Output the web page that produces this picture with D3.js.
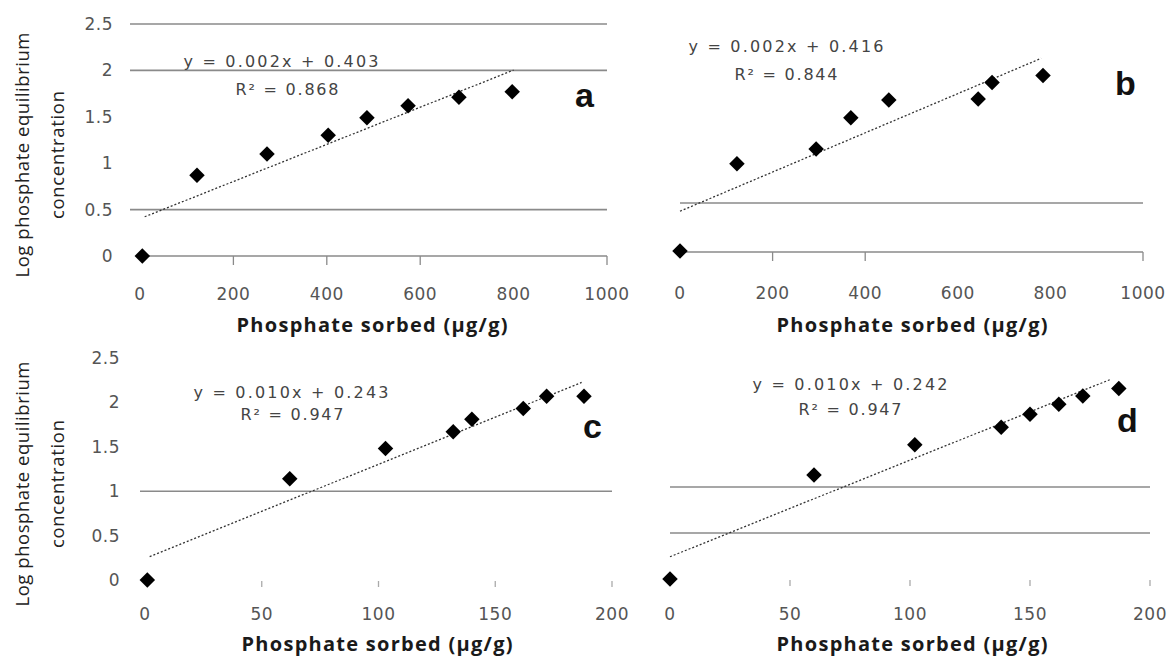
<!DOCTYPE html>
<html>
<head>
<meta charset="utf-8">
<script src="https://cdn.jsdelivr.net/npm/d3@7/dist/d3.min.js"></script>
<style>
  body { margin: 0; background: #fff; }
  svg { display: block; }
</style>
</head>
<body>
<div id="chart"></div>
<script>
// Values
const panelIds = ['a', 'b', 'c', 'd'];

const sorbedA = [5, 122, 272, 403, 486, 574, 683, 797];
const logConcA = [0, 0.87, 1.10, 1.30, 1.49, 1.62, 1.71, 1.77];
const sorbedB = [0, 123, 294, 369, 451, 644, 674, 784];
const logConcB = [0.01, 0.90, 1.05, 1.37, 1.55, 1.56, 1.73, 1.80];
const sorbedC = [1, 62, 103, 132, 140, 162, 172, 188];
const logConcC = [0, 1.14, 1.48, 1.67, 1.81, 1.93, 2.07, 2.07];
const sorbedD = [0, 60, 102, 138, 150, 162, 172, 187];
const logConcD = [0, 1.13, 1.46, 1.65, 1.79, 1.90, 1.99, 2.07];

// linear fits as drawn (slope, intercept, x span)
const trendSlope = [0.002, 0.002, 0.0106, 0.0105];
const trendIntercept = [0.403, 0.416, 0.243, 0.242];
const trendSpan = [[10, 800], [0, 780], [2, 187], [0, 184]];
const equationLabels = ['y = 0.002x + 0.403', 'y = 0.002x + 0.416', 'y = 0.010x + 0.243', 'y = 0.010x + 0.242'];
const r2Labels = ['R² = 0.868', 'R² = 0.844', 'R² = 0.947', 'R² = 0.947'];

const xTicksWide = [0, 200, 400, 600, 800, 1000];
const xTicksNarrow = [0, 50, 100, 150, 200];
const yTicks = [0, 0.5, 1, 1.5, 2, 2.5];
const yTickLabels = ['0', '0.5', '1', '1.5', '2', '2.5'];

// only some tick marks / gridlines survived in the scan
const tickMarks = [[200, 400, 600, 1000], [200, 400, 1000], [50, 100, 150, 200], [50, 100, 150, 200]];
const gridValues = [[0.5, 2, 2.5], [0.5], [1], [0.5, 1]];

const xTitle = 'Phosphate sorbed (µg/g)';
const yTitleLines = ['Log phosphate equilibrium', 'concentration'];

// Layout of each panel on the page
const layout = [
    { x: [140, 607], y: [256, 24], gridLeft: 130, axisLine: true, yLabels: 113, xLabelY: 300,
      titleX: 372, titleY: 332, eqX: 281, eqY: 67, r2X: 287, r2Y: 95, letter: [575, 107], yTitleMid: 155 },
    { x: [680, 1143], y: [252, 7], gridLeft: 680, axisLine: true, yLabels: null, xLabelY: 299,
      titleX: 912, titleY: 332, eqX: 786, eqY: 52, r2X: 786, r2Y: 80, letter: [1115, 95], yTitleMid: null },
    { x: [145, 612], y: [580, 358], gridLeft: 140, axisLine: false, yLabels: 120, xLabelY: 620,
      titleX: 377, titleY: 651, eqX: 291, eqY: 398, r2X: 292, r2Y: 420, letter: [583, 438], yTitleMid: 484 },
    { x: [670, 1150], y: [579, 349], gridLeft: 670, axisLine: false, yLabels: null, xLabelY: 620,
      titleX: 912, titleY: 651, eqX: 850, eqY: 390, r2X: 850, r2Y: 415, letter: [1117, 432], yTitleMid: null }
];

const sorbed = [sorbedA, sorbedB, sorbedC, sorbedD];
const logConc = [logConcA, logConcB, logConcC, logConcD];

const width = 1174;
const height = 658;

const svg = d3.select('#chart')
    .append('svg')
    .attr('width', width)
    .attr('height', height)
    .attr('viewBox', `0 0 ${width} ${height}`);

svg.append('rect').attr('width', width).attr('height', height).attr('fill', '#fff');

const gridColor = '#8a8a8a';
const labelFont = '"DejaVu Sans", sans-serif';
const textFont = '"Open Sans", sans-serif';

panelIds.forEach((id, i) => {
    const L = layout[i];
    const wide = i < 2;
    const xTicks = wide ? xTicksWide : xTicksNarrow;
    const x = d3.scaleLinear().domain([0, wide ? 1000 : 200]).range(L.x);
    const y = d3.scaleLinear().domain([0, 2.5]).range(L.y);

    const g = svg.append('g').attr('class', `panel-${id}`);

    // Gridlines
    g.selectAll('.grid')
        .data(gridValues[i])
        .join('line')
        .attr('class', 'grid')
        .attr('x1', L.gridLeft)
        .attr('x2', L.x[1])
        .attr('y1', d => y(d))
        .attr('y2', d => y(d))
        .attr('stroke', gridColor)
        .attr('stroke-width', 1.6);

    // Horizontal axis
    if (L.axisLine) {
        g.append('line')
            .attr('x1', x(0)).attr('x2', x.range()[1])
            .attr('y1', y(0)).attr('y2', y(0))
            .attr('stroke', gridColor)
            .attr('stroke-width', 1.6);
    }
    g.selectAll('.tick-mark')
        .data(tickMarks[i])
        .join('line')
        .attr('class', 'tick-mark')
        .attr('x1', d => x(d)).attr('x2', d => x(d))
        .attr('y1', y(0) + (L.axisLine ? 0 : 1))
        .attr('y2', y(0) + (L.axisLine ? 9 : 7))
        .attr('stroke', L.axisLine ? gridColor : '#aaa')
        .attr('stroke-width', 1.3);

    // X tick labels
    g.selectAll('.x-label')
        .data(xTicks)
        .join('text')
        .attr('class', 'x-label')
        .attr('x', d => x(d))
        .attr('y', L.xLabelY)
        .attr('text-anchor', 'middle')
        .attr('fill', '#555')
        .style('font-family', labelFont)
        .style('font-size', '17px')
        .style('letter-spacing', '0.5px')
        .text(d => d);

    // Y tick labels
    if (L.yLabels !== null) {
        g.selectAll('.y-label')
            .data(yTicks)
            .join('text')
            .attr('class', 'y-label')
            .attr('x', L.yLabels)
            .attr('y', d => y(d))
            .attr('dy', '0.35em')
            .attr('text-anchor', 'end')
            .attr('fill', '#555')
            .style('font-family', labelFont)
            .style('font-size', '17px')
            .style('letter-spacing', '0.5px')
            .text((d, k) => yTickLabels[k]);
    }

    // Trendline
    const span = trendSpan[i];
    g.append('line')
        .attr('x1', x(span[0]))
        .attr('y1', y(trendSlope[i] * span[0] + trendIntercept[i]))
        .attr('x2', x(span[1]))
        .attr('y2', y(trendSlope[i] * span[1] + trendIntercept[i]))
        .attr('stroke', '#333')
        .attr('stroke-width', 1.3)
        .attr('stroke-dasharray', '2,2');

    // Diamond markers
    const diamond = d3.symbol().type(d3.symbolSquare).size(120);
    g.selectAll('.pt')
        .data(sorbed[i].map((v, k) => [v, logConc[i][k]]))
        .join('path')
        .attr('class', 'pt')
        .attr('d', diamond)
        .attr('transform', d => `translate(${x(d[0])},${y(d[1])}) rotate(45)`)
        .attr('fill', '#000');

    // Equation and R²
    g.append('text')
        .attr('x', L.eqX).attr('y', L.eqY)
        .attr('text-anchor', 'middle')
        .attr('fill', '#444')
        .attr('textLength', 195)
        .attr('lengthAdjust', 'spacing')
        .style('font-family', labelFont)
        .style('font-size', '16px')
        .text(equationLabels[i]);
    g.append('text')
        .attr('x', L.r2X).attr('y', L.r2Y)
        .attr('text-anchor', 'middle')
        .attr('fill', '#444')
        .attr('textLength', 103)
        .attr('lengthAdjust', 'spacing')
        .style('font-family', labelFont)
        .style('font-size', '16px')
        .text(r2Labels[i]);

    // Panel letter
    g.append('text')
        .attr('x', L.letter[0]).attr('y', L.letter[1])
        .attr('fill', '#111')
        .style('font-family', '"Liberation Sans", Arial, sans-serif')
        .style('font-weight', '700')
        .style('font-size', '34px')
        .text(id);

    // X axis title
    g.append('text')
        .attr('x', L.titleX).attr('y', L.titleY)
        .attr('text-anchor', 'middle')
        .attr('fill', '#1a1a1a')
        .attr('textLength', 271)
        .attr('lengthAdjust', 'spacing')
        .style('font-family', textFont)
        .style('font-weight', '700')
        .style('font-size', '20px')
        .text(xTitle);

    // Y axis title (two lines)
    if (L.yTitleMid !== null) {
        const yt = g.append('text')
            .attr('transform', `translate(0,${L.yTitleMid}) rotate(-90)`)
            .attr('text-anchor', 'middle')
            .attr('fill', '#222')
            .style('font-family', textFont)
            .style('font-size', '18.5px');
        yt.append('tspan').attr('x', 0).attr('y', 29)
            .attr('textLength', 245).attr('lengthAdjust', 'spacing')
            .text(yTitleLines[0]);
        yt.append('tspan').attr('x', 0).attr('y', 64)
            .attr('textLength', 128).attr('lengthAdjust', 'spacing')
            .text(yTitleLines[1]);
    }
});
</script>
</body>
</html>
